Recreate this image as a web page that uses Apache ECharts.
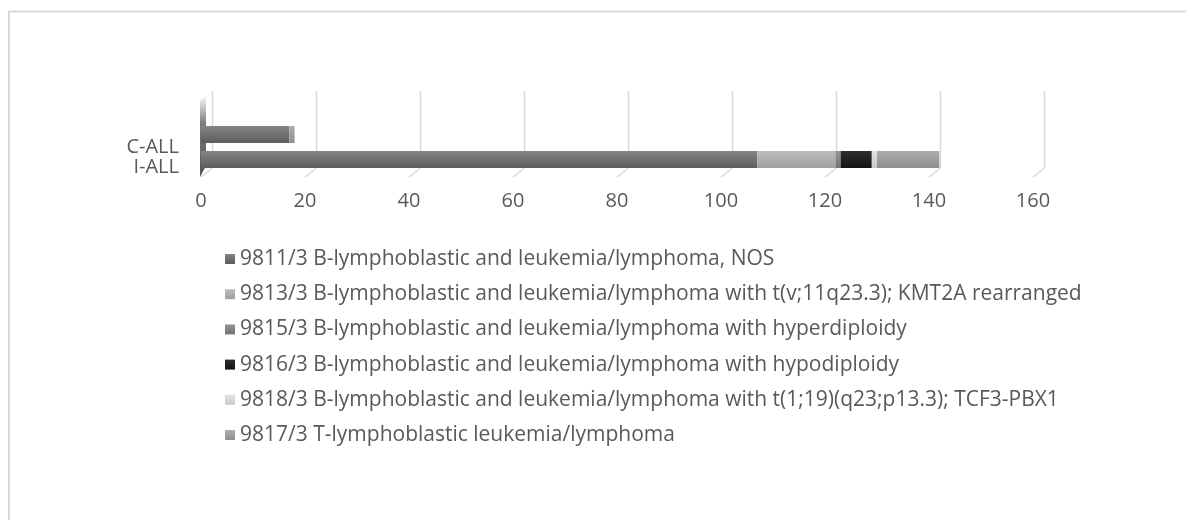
<!DOCTYPE html>
<html>
<head>
<meta charset="utf-8">
<script src="https://cdn.jsdelivr.net/npm/echarts@6/dist/echarts.min.js"></script>
<style>
html,body{margin:0;padding:0;background:#fff;}
#chart{width:1186px;height:520px;}
</style>
</head>
<body>
<div id="chart"></div>
<script>
// ---- data ----
const categories = ['I-ALL', 'C-ALL'];
const seriesNames = [
  '9811/3 B-lymphoblastic and leukemia/lymphoma, NOS',
  '9813/3 B-lymphoblastic and leukemia/lymphoma with t(v;11q23.3); KMT2A rearranged',
  '9815/3 B-lymphoblastic and leukemia/lymphoma with hyperdiploidy',
  '9816/3 B-lymphoblastic and leukemia/lymphoma with hypodiploidy',
  '9818/3 B-lymphoblastic and leukemia/lymphoma with t(1;19)(q23;p13.3); TCF3-PBX1',
  '9817/3 T-lymphoblastic leukemia/lymphoma'
];
const v9811 = [107, 17];
const v9813 = [15, 0];
const v9815 = [1, 0];
const v9816 = [6, 0];
const v9818 = [1, 0];
const v9817 = [12, 1];
const xTicks = [0, 20, 40, 60, 80, 100, 120, 140, 160];

// ---- styles ----
const colorPairs = [
  ['#858585', '#5c5c5c'],
  ['#bdbdbd', '#9e9e9e'],
  ['#959595', '#737373'],
  ['#2e2e2e', '#151515'],
  ['#e3e3e3', '#c9c9c9'],
  ['#adadad', '#8f8f8f']
];
function grad(c) {
  return new echarts.graphic.LinearGradient(0, 0, 0, 1, [
    {offset: 0, color: c[0]}, {offset: 1, color: c[1]}
  ]);
}
const valueSets = [v9811, v9813, v9815, v9816, v9818, v9817];
const textColor = '#595959';
const fontFamily = '"Open Sans", sans-serif';

const barSeries = seriesNames.map((name, i) => ({
  name: name,
  type: 'bar',
  stack: 'total',
  barWidth: 17,
  z: 3,
  itemStyle: {color: grad(colorPairs[i])},
  data: valueSets[i]
}));

const decoSeries = {
  type: 'custom',
  silent: true,
  z: 1,
  data: xTicks.map(v => [v, 0]),
  encode: {x: 0, y: 1},
  renderItem: function (params, api) {
    const cs = params.coordSys;
    const fx = api.coord([api.value(0), 0])[0];
    const bx = fx + 11.5;
    const top = cs.y - 31;
    const backBottom = cs.y + cs.height - 4;
    const frontBottom = cs.y + cs.height + 5;
    const children = [
      {type: 'polyline', shape: {points: [[bx, top], [bx, backBottom], [fx, frontBottom]]},
       style: {stroke: '#d9d9d9', lineWidth: 1.5, fill: null}}
    ];
    if (api.value(0) === 0) {
      children.push({
        type: 'polygon',
        shape: {points: [[fx - 1, frontBottom], [fx - 1, top + 10], [fx + 5, top + 4], [fx + 5, backBottom - 2]]},
        style: {fill: new echarts.graphic.LinearGradient(0, 0, 0, 1, [
          {offset: 0, color: 'rgba(255,255,255,1)'},
          {offset: 0.35, color: '#7a7a7a'},
          {offset: 1, color: '#555'}
        ])}
      });
    }
    return {type: 'group', children: children};
  }
};

const chart = echarts.init(document.getElementById('chart'));
chart.setOption({
  animation: false,
  backgroundColor: '#fff',
  graphic: [
    {type: 'line', shape: {x1: 8, y1: 11.5, x2: 1186, y2: 11.5}, style: {stroke: '#d9d9d9', lineWidth: 2}},
    {type: 'line', shape: {x1: 9, y1: 11, x2: 9, y2: 520}, style: {stroke: '#d9d9d9', lineWidth: 2}}
  ],
  grid: {left: 201, right: 153, top: 122, bottom: 348, containLabel: false},
  xAxis: {
    type: 'value',
    min: 0, max: 160, interval: 20,
    axisLine: {show: false},
    axisTick: {show: false},
    splitLine: {show: false},
    axisLabel: {color: textColor, fontFamily: fontFamily, fontSize: 20, margin: 19}
  },
  yAxis: {
    type: 'category',
    data: categories,
    axisLine: {show: false},
    axisTick: {show: false},
    axisLabel: {
      interval: 0,
      hideOverlap: false,
      color: textColor, fontFamily: fontFamily, fontSize: 20, margin: 22,
      formatter: function (v) { return v === 'C-ALL' ? '{a|' + v + '}' : '{b|' + v + '}'; },
      rich: {
        a: {color: textColor, fontFamily: fontFamily, fontSize: 20, padding: [25, 0, 0, 0]},
        b: {color: textColor, fontFamily: fontFamily, fontSize: 20, padding: [15, 0, 0, 0]}
      }
    }
  },
  legend: {
    orient: 'vertical',
    left: 225,
    top: 248,
    padding: 0,
    itemWidth: 10,
    itemHeight: 10,
    itemGap: 13.2,
    icon: 'rect',
    data: seriesNames,
    textStyle: {color: textColor, fontFamily: fontFamily, fontSize: 21, lineHeight: 22}
  },
  series: [decoSeries].concat(barSeries)
});
</script>
</body>
</html>
